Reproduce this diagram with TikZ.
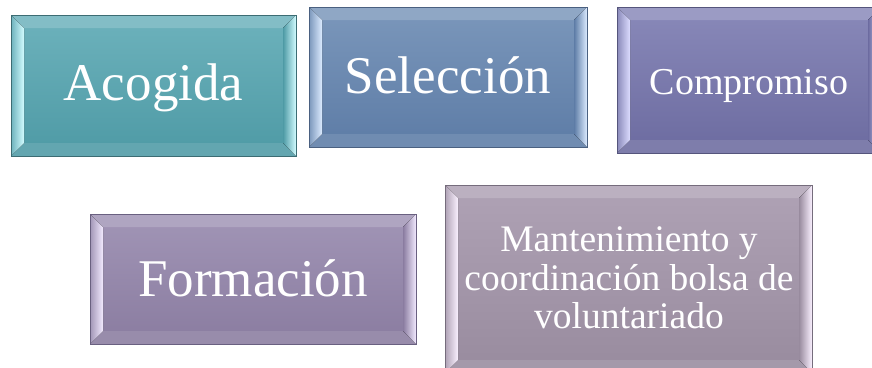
\documentclass[tikz,border=0pt]{standalone}
\usepackage{fontspec}
\setmainfont{Liberation Serif}
\usetikzlibrary{calc}
\definecolor{atop}{HTML}{6DB2BC}\definecolor{abot}{HTML}{4E9AA5}\definecolor{alt}{HTML}{D2FCFF}\definecolor{abd}{HTML}{3C6C73}
\definecolor{stop}{HTML}{7B97BB}\definecolor{sbot}{HTML}{5D7CA6}\definecolor{slt}{HTML}{DCEBFF}\definecolor{sbd}{HTML}{4A6080}
\definecolor{ctop}{HTML}{8989B9}\definecolor{cbot}{HTML}{6C6BA0}\definecolor{clt}{HTML}{DCDCFF}\definecolor{cbd}{HTML}{55557C}
\definecolor{ftop}{HTML}{A195B6}\definecolor{fbot}{HTML}{8A7CA0}\definecolor{flt}{HTML}{F2EAFF}\definecolor{fbd}{HTML}{696080}
\definecolor{mtop}{HTML}{AFA2B5}\definecolor{mbot}{HTML}{988B9E}\definecolor{mlt}{HTML}{FAF0FF}\definecolor{mbd}{HTML}{756C7C}
\tikzset{
  bevface/.style={draw=#1bd, line width=1pt, top color=#1top, bottom color=#1bot, inner sep=0pt,
    path picture={
      \path (path picture bounding box.north west) coordinate (pnw)
            (path picture bounding box.south east) coordinate (pse);
      \fill[#1top!85!white] (pnw) -- (pnw -| pse) -- ++(-13pt,-13pt) -- ($(pnw)+(13pt,-13pt)$) -- cycle;
      \fill[#1bot!88!white] (pnw |- pse) -- (pse) -- ++(-13pt,13pt) -- ($(pnw |- pse)+(13pt,13pt)$) -- cycle;
      \fill[left color=#1top, right color=#1lt] (pnw) -- ++(13pt,-13pt) -- ($(pnw |- pse)+(13pt,13pt)$) -- (pnw |- pse) -- cycle;
      \fill[left color=#1bot, right color=#1lt] (pnw -| pse) -- ++(-13pt,-13pt) -- ($(pse)+(-13pt,13pt)$) -- (pse) -- cycle;
    }},
  bevtext/.style={text=white, anchor=base, inner sep=0pt}
}
\begin{document}
\begin{tikzpicture}[x=1pt,y=-1pt]
\useasboundingbox (0,0) rectangle (872,367);
\node[bevface=a, minimum width=285pt, minimum height=141pt] (acogidabox) at (153.5,85.5) {};
\node[bevtext, font=\fontsize{53}{60}\selectfont] (acogida) at (153.5,100) {Acogida};
\node[bevface=s, minimum width=278pt, minimum height=140pt] (seleccionbox) at (448,77) {};
\node[bevtext, font=\fontsize{53}{60}\selectfont] (seleccion) at (448,93) {Selección};
\node[bevface=c, minimum width=264pt, minimum height=146pt] (compromisobox) at (749,80) {};
\node[bevtext, font=\fontsize{38}{44}\selectfont] (compromiso) at (749,94) {Compromiso};
\node[bevface=f, minimum width=326pt, minimum height=130pt] (formacionbox) at (253,279) {};
\node[bevtext, font=\fontsize{53}{60}\selectfont] (formacion) at (253,296) {Formación};
\node[bevface=m, minimum width=367pt, minimum height=188pt] (mantbox) at (628.5,279) {};
\node[text=white, inner sep=0pt, align=center, font=\fontsize{37.5}{38.5}\selectfont] (mant) at (629,278)
  {Mantenimiento y\\coordinación bolsa de\\voluntariado};
\end{tikzpicture}
\end{document}
